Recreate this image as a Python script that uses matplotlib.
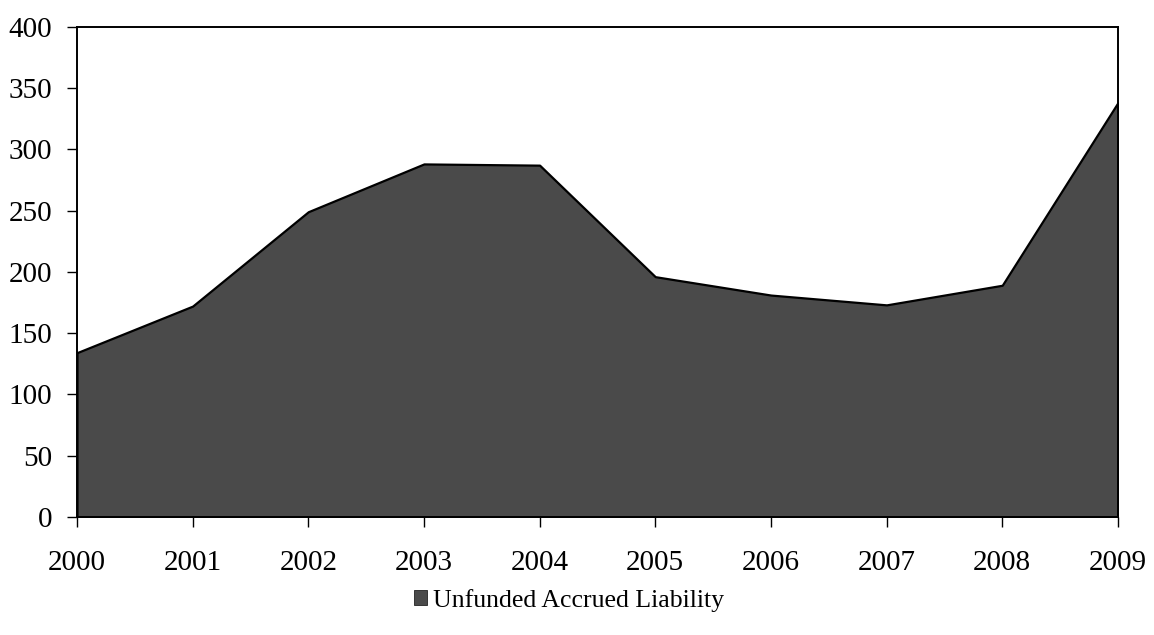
#!/usr/bin/env python

# Area chart of the unfunded accrued liability, 2000-2009

import matplotlib
matplotlib.use('Agg')
import matplotlib.pyplot as plt
from matplotlib.patches import Patch

# Liability by year
years = [2000, 2001, 2002, 2003, 2004, 2005, 2006, 2007, 2008, 2009]
liability = [134, 172, 249, 288, 287, 196, 181, 173, 189, 338]
series_name = 'Unfunded Accrued Liability'
y_ticks = [0, 50, 100, 150, 200, 250, 300, 350, 400]

fill_colour = '#4a4a4a'

plt.rcParams['font.family'] = ['Liberation Serif', 'DejaVu Serif']

fig = plt.figure(figsize=(11.54, 6.35), dpi=100, facecolor='white')
ax = fig.add_axes([0.0667, 0.186, 0.902, 0.772])

ax.fill_between(years, liability, 0, facecolor=fill_colour,
                edgecolor='black', linewidth=1.6)

ax.set_xlim(years[0], years[-1])
ax.set_ylim(0, 400)
ax.set_xticks(years)
ax.set_yticks(y_ticks)

for side in ['left', 'bottom', 'top', 'right']:
    ax.spines[side].set_color('black')
    ax.spines[side].set_linewidth(1.4)

ax.tick_params(axis='y', direction='out', length=7, width=1,
               pad=11, labelsize=21)
ax.tick_params(axis='x', direction='out', length=7, width=1,
               pad=17, labelsize=21)

# Legend below the plot
handle = Patch(facecolor=fill_colour, edgecolor='#222222', linewidth=0.6)
fig.legend([handle], [series_name], loc='center',
           bbox_to_anchor=(0.493, 0.055), frameon=False,
           fontsize=18.5, handlelength=0.5, handleheight=0.5,
           handletextpad=0.25)

fig.savefig('out.png', dpi=100, facecolor='white')
